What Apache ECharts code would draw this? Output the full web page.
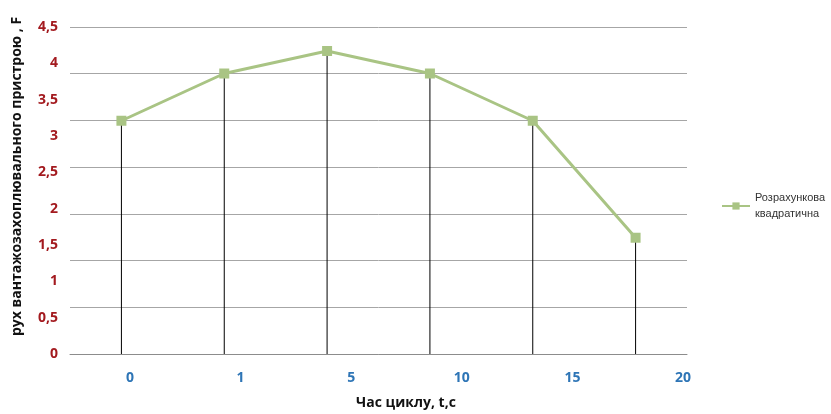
<!DOCTYPE html>
<html>
<head>
<meta charset="utf-8">
<script src="https://cdn.jsdelivr.net/npm/echarts@6/dist/echarts.min.js"></script>
<style>
  html, body { margin: 0; padding: 0; background: #fff; }
  #chart { width: 831px; height: 414px; }
</style>
</head>
<body>
<div id="chart"></div>
<script>
// Cycle time labels (x) and computed load-handling device motion F (y)
const xTickLabels = ['0', '1', '5', '10', '15', '20'];
const seriesName = 'Розрахункова квадратична';
const motionValues = [3.21, 3.86, 4.17, 3.86, 3.21, 1.60];
const yTickLabels = ['0', '0,5', '1', '1,5', '2', '2,5', '3', '3,5', '4', '4,5'];

const FONT = '"Open Sans", "DejaVu Sans", sans-serif';

const chart = echarts.init(document.getElementById('chart'));

chart.setOption({
  animation: false,
  backgroundColor: '#ffffff',
  textStyle: { fontFamily: FONT },
  grid: [
    { left: 70, right: 144, top: 27, bottom: 60, outerBoundsMode: 'none', containLabel: false },
    // second grid only carries the spread-out time labels
    { left: 130, right: 148, top: 27, bottom: 60, outerBoundsMode: 'none', containLabel: false }
  ],
  legend: {
    data: [seriesName],
    orient: 'vertical',
    left: 716,
    top: 185,
    itemWidth: 28,
    itemHeight: 9,
    formatter: function (name) { return name.replace(' ', '\n'); },
    textStyle: { fontSize: 11, color: '#333', fontFamily: '"Liberation Sans", Arial, sans-serif', lineHeight: 16 }
  },
  xAxis: [
    {
      type: 'category',
      gridIndex: 0,
      data: xTickLabels,
      boundaryGap: true,
      axisLine: { show: true, lineStyle: { color: '#8c8c8c', width: 1 } },
      axisTick: { show: false },
      axisLabel: { show: false },
      splitLine: { show: false },
      name: 'Час циклу, t,с',
      nameLocation: 'middle',
      nameGap: 42,
      nameTextStyle: { fontSize: 14, fontWeight: 'bold', color: '#111', fontFamily: FONT, padding: [0, 0, 0, 55] }
    },
    {
      type: 'category',
      gridIndex: 1,
      data: xTickLabels,
      boundaryGap: false,
      axisLine: { show: false },
      axisTick: { show: false },
      splitLine: { show: false },
      axisLabel: { margin: 17, fontSize: 14, fontWeight: 'bold', color: '#2e75b6', fontFamily: FONT, interval: 0 }
    }
  ],
  yAxis: [
    {
      type: 'value',
      gridIndex: 0,
      min: 0,
      max: 4.5,
      interval: 0.5,
      axisLine: { show: false },
      axisTick: { show: false },
      splitLine: { show: false },
      axisLabel: {
        margin: 12,
        fontSize: 14,
        fontWeight: 'bold',
        color: '#a31a1f',
        fontFamily: FONT,
        formatter: function (v) { return yTickLabels[Math.round(v / 0.5)]; }
      },
      name: 'рух вантажозахоплювального пристрою , F',
      nameLocation: 'middle',
      nameRotate: 90,
      nameGap: 46,
      nameTextStyle: { fontSize: 14, fontWeight: 'bold', color: '#111', fontFamily: FONT, padding: [0, 0, 0, 28] }
    },
    {
      // seven equal bands for the horizontal grid lines
      type: 'value',
      gridIndex: 0,
      min: 0,
      max: 7,
      interval: 1,
      position: 'left',
      axisLine: { show: false },
      axisTick: { show: false },
      axisLabel: { show: false },
      splitLine: { show: true, lineStyle: { color: '#a6a6a6', width: 1 } }
    },
    {
      type: 'value',
      gridIndex: 1,
      show: false
    }
  ],
  series: [
    {
      // vertical drop lines from each point down to the axis
      type: 'bar',
      xAxisIndex: 0,
      yAxisIndex: 0,
      data: motionValues,
      barWidth: 1,
      itemStyle: { color: '#000000' },
      z: 1,
      silent: true
    },
    {
      name: seriesName,
      type: 'line',
      xAxisIndex: 0,
      yAxisIndex: 0,
      data: motionValues,
      symbol: 'rect',
      symbolSize: 10,
      lineStyle: { color: '#a9c484', width: 3 },
      itemStyle: { color: '#a9c484' },
      z: 3
    }
  ]
});
</script>
</body>
</html>
